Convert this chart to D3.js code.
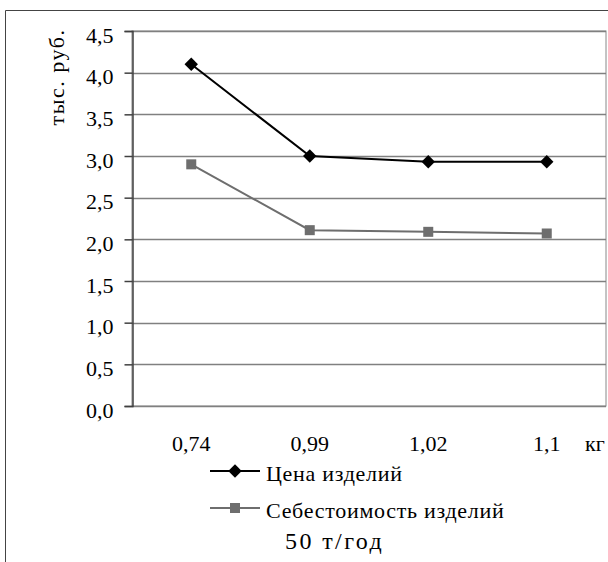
<!DOCTYPE html>
<html><head><meta charset="utf-8">
<script src="https://cdn.jsdelivr.net/npm/d3@7"></script>
</head><body style="margin:0">
<svg id="c" width="608" height="562"></svg>
<script>
const categories = ["0,74","0,99","1,02","1,1"];
const priceValues = [4.10, 3.00, 2.93, 2.93];
const costValues = [2.90, 2.11, 2.09, 2.07];
const yTicks = [0,0.5,1,1.5,2,2.5,3,3.5,4,4.5];
const seriesNames = ["Цена изделий","Себестоимость изделий"];
const yTitle = "тыс. руб.";
const xTitle = "кг";
const caption = "50 т/год";

const FONT = "Liberation Serif";
const FS = 22;
const svg = d3.select("#c");
const L = 132, R = 606, T = 31, B = 406;
const x = d3.scaleBand().domain(categories).range([L, R]);
const y = d3.scaleLinear().domain([0, 4.5]).range([B, T]);

svg.append("defs").append("clipPath").attr("id","clipR")
  .append("rect").attr("x",0).attr("y",0).attr("width",R).attr("height",562);

// outer border
svg.append("path").attr("d", "M5.5,562 V10.5 H608").attr("fill","none").attr("stroke","#444").attr("stroke-width",1);

// plot area box
svg.append("rect").attr("x", L).attr("y", T).attr("width", R-L).attr("height", B-T)
  .attr("fill","none").attr("stroke","#888").attr("stroke-width",1);

// gridlines
svg.append("g").selectAll("line").data(yTicks).join("line")
  .attr("x1", L).attr("x2", R).attr("y1", d=>Math.round(y(d))+0.5).attr("y2", d=>Math.round(y(d))+0.5)
  .attr("stroke","#808080").attr("stroke-width",1.5);

// y axis
const yAxis = d3.axisLeft(y).tickValues(yTicks).tickSize(8).tickPadding(11)
  .tickFormat(d => d3.format(".1f")(d).replace(".", ","));
const ga = svg.append("g").attr("transform", `translate(${L+0.5},0)`).call(yAxis);
ga.select(".domain").attr("stroke","#404040").attr("stroke-width",1.5);
ga.selectAll(".tick line").attr("stroke","#404040").attr("stroke-width",1.5);
ga.selectAll(".tick text").attr("fill","#000").attr("dy","0.5em");

// x labels
svg.append("g").selectAll("text").data(categories).join("text")
  .attr("x", d => x(d) + x.bandwidth()/2).attr("y", 451)
  .attr("text-anchor","middle").text(d=>d);
svg.append("text").attr("class","xt").attr("x", 585).attr("y", 451).attr("clip-path","url(#clipR)").text(xTitle);

// y title
svg.append("text").attr("class","yt").attr("transform", "translate(64,77) rotate(-90)")
  .attr("text-anchor","middle").text(yTitle);

const line = d3.line().x((d,i)=>x(categories[i]) + x.bandwidth()/2).y(d=>y(d));

// cost series
svg.append("path").datum(costValues).attr("d", line).attr("fill","none").attr("stroke","#6e6e6e").attr("stroke-width",2);
svg.append("g").selectAll("rect").data(costValues).join("rect")
  .attr("x",(d,i)=>x(categories[i]) + x.bandwidth()/2 - 5).attr("y", d=>y(d)-5)
  .attr("width",10).attr("height",10).attr("fill","#6e6e6e");

// price series
svg.append("path").datum(priceValues).attr("d", line).attr("fill","none").attr("stroke","#000").attr("stroke-width",2);
const diamond = d3.symbol().type(d3.symbolDiamond2).size(115);
svg.append("g").selectAll("path").data(priceValues).join("path")
  .attr("transform",(d,i)=>`translate(${x(categories[i]) + x.bandwidth()/2},${y(d)})`)
  .attr("d", diamond).attr("fill","#000");

// legend
const lg = svg.append("g");
lg.append("line").attr("x1",210).attr("x2",260).attr("y1",471).attr("y2",471).attr("stroke","#000").attr("stroke-width",2);
lg.append("path").attr("transform","translate(235,471)").attr("d",diamond).attr("fill","#000");
lg.append("text").attr("class","lt").attr("x",266).attr("y",481).text(seriesNames[0]);
lg.append("line").attr("x1",210).attr("x2",260).attr("y1",508).attr("y2",508).attr("stroke","#6e6e6e").attr("stroke-width",2);
lg.append("rect").attr("x",230).attr("y",503).attr("width",10).attr("height",10).attr("fill","#6e6e6e");
lg.append("text").attr("class","lt").attr("x",266).attr("y",518).text(seriesNames[1]);

svg.append("text").attr("class","cap").attr("x",285).attr("y",549).text(caption);

// fonts
svg.selectAll("text").attr("font-family", FONT).attr("font-size", FS).attr("fill","#000");
svg.selectAll("text.lt").attr("letter-spacing", 0.7);
svg.selectAll("text.yt").attr("letter-spacing", 1.5);
svg.selectAll("text.cap").attr("font-size", 24).attr("letter-spacing", 2.4);
</script>
</body></html>
